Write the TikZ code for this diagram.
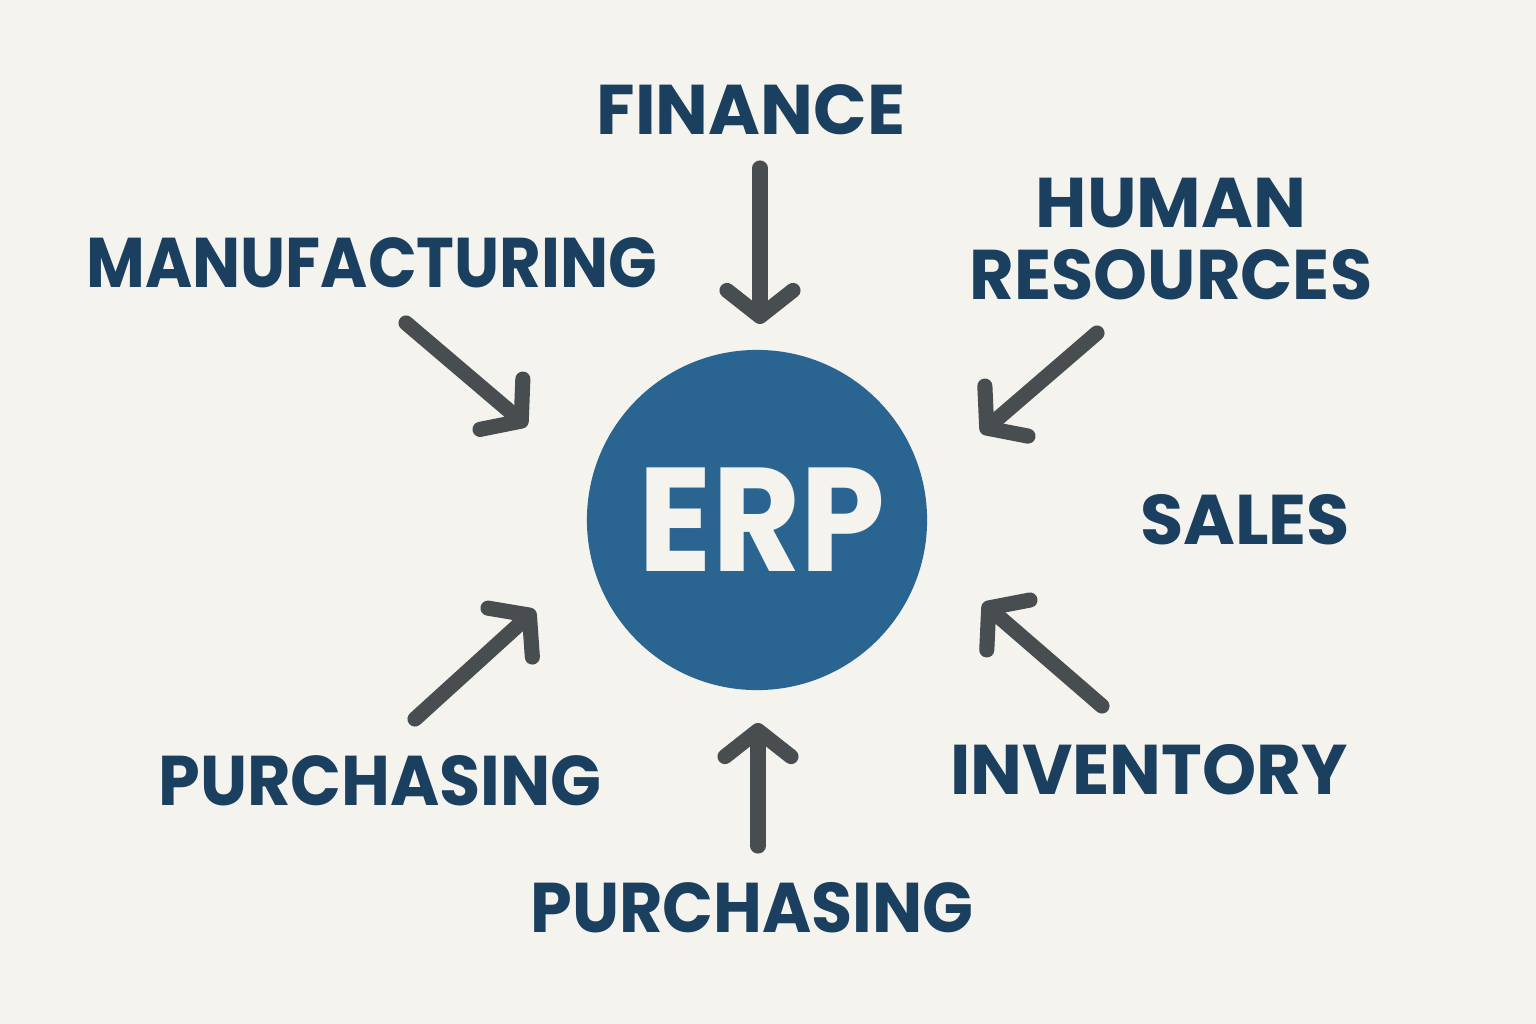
\documentclass[tikz,border=0pt]{standalone}
\usepackage{fontspec}
\usepackage{graphicx}
\setmainfont{Poppins}
\usetikzlibrary{arrows.meta}
\definecolor{bg}{HTML}{F5F3EE}
\definecolor{navy}{HTML}{1B3F5E}
\definecolor{erpblue}{HTML}{2A6592}
\definecolor{arrowgray}{HTML}{484D50}
\newcommand\hsq[2]{\scalebox{#1}[1]{#2}}
\tikzset{
  lbl/.style={text=navy,font=\fontsize{20}{24}\selectfont\bfseries,align=center,inner sep=0pt},
  arr/.style={draw=arrowgray,line width=4.3pt,line cap=round,
    -{Straight Barb[length=2.6mm,width=6.6mm,round]}}
}
\begin{document}
\begin{tikzpicture}[x=0.01cm,y=-0.01cm]
\fill[bg] (0,0) rectangle (1536,1024);
\useasboundingbox (0,0) rectangle (1536,1024);
\node[circle,fill=erpblue,minimum size=3.4cm,inner sep=0pt] (erp) at (757,520) {};
\node[text=bg,inner sep=0pt,font=\fontsize{42}{48}\selectfont\bfseries] (erpt) at (762,520) {\hsq{0.92}{ERP}};
\node[lbl] (fin) at (751,110) {FINANCE};
\node[lbl] (man) at (372,263) {\hsq{0.91}{MANUFACTURING}};
\node[lbl,font=\fontsize{20}{20.5}\selectfont\bfseries] (hr) at (1171,239) {HUMAN\\\hsq{0.975}{RESOURCES}};
\node[lbl] (sal) at (1245,520) {SALES};
\node[lbl] (inv) at (1149,770) {\hsq{0.98}{INVENTORY}};
\node[lbl] (pur1) at (380,781) {\hsq{0.95}{PURCHASING}};
\node[lbl] (pur2) at (752,908) {\hsq{0.95}{PURCHASING}};
\coordinate (a1s) at (760,168); \coordinate (a1e) at (760,324);
\coordinate (a2s) at (406,323); \coordinate (a2e) at (527,426);
\coordinate (a3s) at (1097,333); \coordinate (a3e) at (981,433);
\coordinate (a4s) at (415,719); \coordinate (a4e) at (535,610);
\coordinate (a5s) at (758,846); \coordinate (a5e) at (758,723);
\coordinate (a6s) at (1102,706); \coordinate (a6e) at (983,603);
\draw[arr] (a1s) -- (a1e);
\draw[arr] (a2s) -- (a2e);
\draw[arr] (a3s) -- (a3e);
\draw[arr] (a4s) -- (a4e);
\draw[arr] (a5s) -- (a5e);
\draw[arr] (a6s) -- (a6e);
\end{tikzpicture}
\end{document}
